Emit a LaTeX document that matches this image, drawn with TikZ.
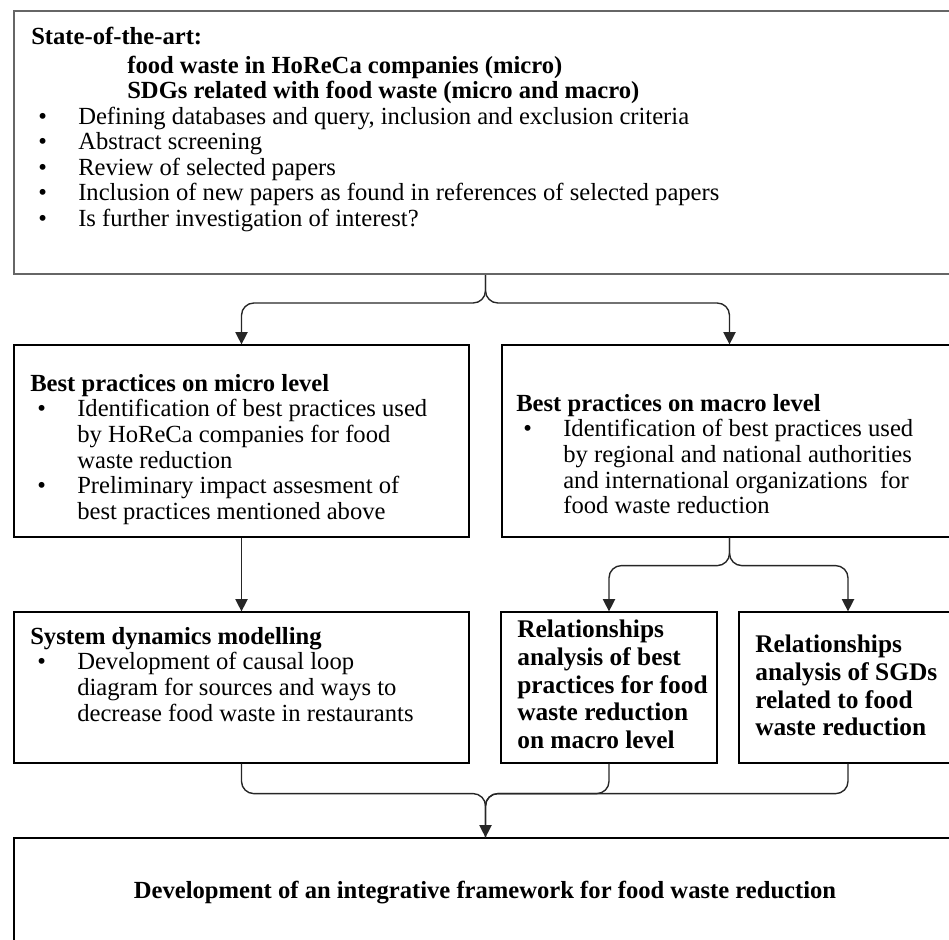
\documentclass[tikz,border=0pt]{standalone}
\usepackage{fontspec}
\setmainfont{Liberation Serif}
\usetikzlibrary{arrows.meta}
\newdimen\px \px=0.65pt
\newcommand{\bl}{\makebox[47\px][l]{\hspace{7\px}\textbullet}}
\newcommand{\ind}{\hspace*{47\px}}
\tikzset{
  box/.style={draw=black, line width=0.8pt, inner sep=0, fill=white},
  box top/.style={box, draw=black!60, line width=1.3pt},
  box text/.style={anchor=north west, inner sep=0, align=left, font=\fontsize{16}{16.6}\selectfont},
  box bold/.style={box text, font=\fontsize{16.5}{17.9}\selectfont\bfseries},
  connect/.style={line width=0.9pt, black!85, rounded corners=8pt},
  connect arrow/.style={connect, -{Triangle[length=8pt,width=8pt]}}
}
\begin{document}
\begin{tikzpicture}[x=\px, y=-\px]
  \clip (0,0) rectangle (949,940);
  % boxes
  \node[box top, minimum width=943\px, minimum height=263\px] (top) at (485.5,142.5) {};
  \node[box, minimum width=455\px, minimum height=192\px] (micro) at (241.5,441) {};
  \node[box, minimum width=455\px, minimum height=192\px] (macro) at (729.5,441) {};
  \node[box, minimum width=455\px, minimum height=151\px] (sysdyn) at (241.5,687.5) {};
  \node[box, minimum width=216\px, minimum height=151\px] (relbp) at (609,687.5) {};
  \node[box, minimum width=218\px, minimum height=151\px] (relsdg) at (848,687.5) {};
  \node[box, minimum width=943\px, minimum height=152\px] (final) at (485.5,914) {};

  % texts
  \node[box text] (toptxt) at (31,27) {\textbf{State-of-the-art:}\\[2pt]
    \hspace*{96\px}\textbf{food waste in HoReCa companies (micro)}\\
    \hspace*{96\px}\textbf{SDGs related with food waste (micro and macro)}\\
    \bl Defining databases and query, inclusion and exclusion criteria\\
    \bl Abstract screening\\
    \bl Review of selected papers\\
    \bl Inclusion of new papers as found in references of selected papers\\
    \bl Is further investigation of interest?};
  \node[box text] (microtxt) at (30,374) {\textbf{Best practices on micro level}\\
    \bl Identification of best practices used\\
    \ind by HoReCa companies for food\\
    \ind waste reduction\\
    \bl Preliminary impact assesment of\\
    \ind best practices mentioned above};
  \node[box text] (macrotxt) at (516,394) {\textbf{Best practices on macro level}\\
    \bl Identification of best practices used\\
    \ind by regional and national authorities\\
    \ind and international organizations\ \ for\\
    \ind food waste reduction};
  \node[box text] (sysdyntxt) at (30,627) {\textbf{System dynamics modelling}\\
    \bl Development of causal loop\\
    \ind diagram for sources and ways to\\
    \ind decrease food waste in restaurants};
  \node[box bold] (relbptxt) at (517,620) {Relationships\\
    analysis of best\\
    practices for food\\
    waste reduction\\
    on macro level};
  \node[box bold] (relsdgtxt) at (755,635) {Relationships\\
    analysis of SGDs\\
    related to food\\
    waste reduction};
  \node[font=\fontsize{16}{16.6}\selectfont\bfseries, inner sep=0] (finaltxt) at (485,893)
    {Development of an integrative framework for food waste reduction};

  % connectors
  \draw[connect arrow] (top.south) -- ++(0,28) -| (micro.north);
  \draw[connect arrow] (top.south) -- ++(0,28) -| (macro.north);
  \draw[connect arrow] (micro.south) -- (sysdyn.north);
  \draw[connect arrow] (macro.south) -- ++(0,28) -| (relbp.north);
  \draw[connect arrow] (macro.south) -- ++(0,28) -| (relsdg.north);
  \draw[connect] (sysdyn.south) -- ++(0,30) -| (final.north);
  \draw[connect] (relsdg.south) -- ++(0,30) -| (final.north);
  \draw[connect arrow] (relbp.south) -- ++(0,30) -| (final.north);
\end{tikzpicture}
\end{document}
